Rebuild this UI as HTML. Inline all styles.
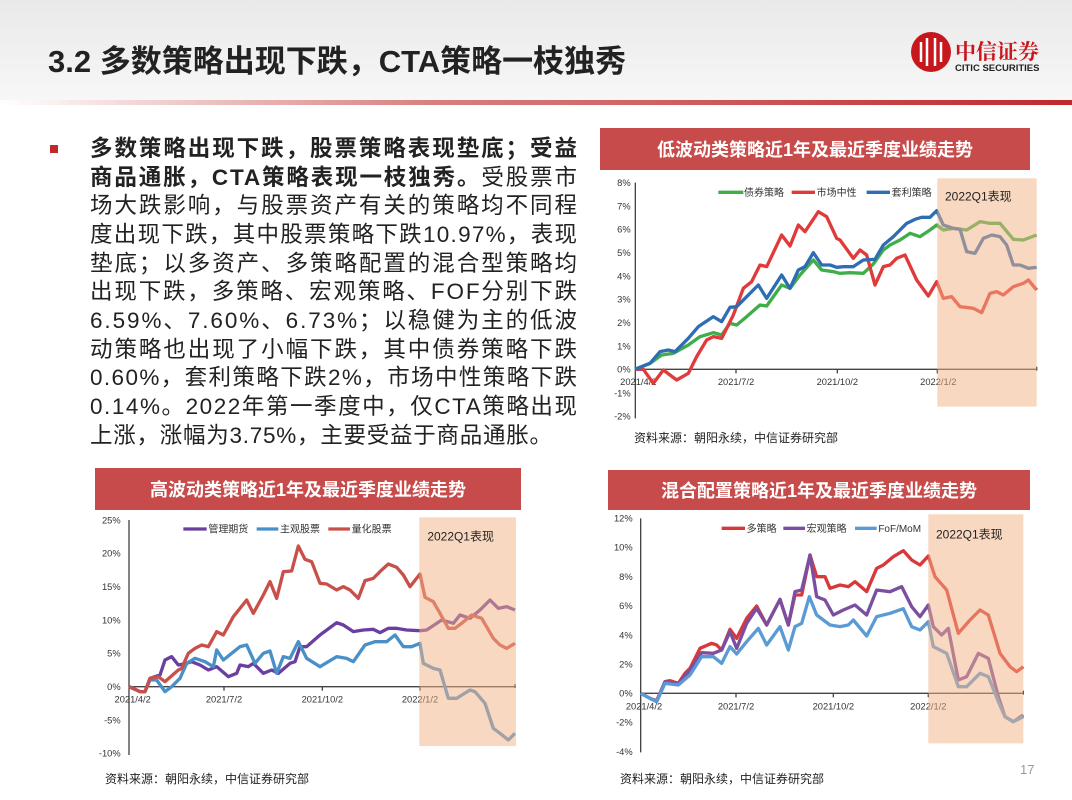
<!DOCTYPE html>
<html><head><meta charset="utf-8"><style>
html,body{margin:0;padding:0;background:#fff;width:1072px;height:800px;overflow:hidden}
svg{display:block;font-family:"Liberation Sans","Noto Sans CJK SC",sans-serif}
</style></head><body>
<svg width="1072" height="800" viewBox="0 0 1072 800" xmlns="http://www.w3.org/2000/svg">
<defs>
<linearGradient id="hd" x1="0" y1="0" x2="0" y2="1"><stop offset="0" stop-color="#e9e9e9"/><stop offset="1" stop-color="#f7f7f7"/></linearGradient>
<linearGradient id="rl" x1="0" y1="0" x2="1" y2="0"><stop offset="0" stop-color="#fff"/><stop offset="0.4" stop-color="#d88080"/><stop offset="1" stop-color="#c0282d"/></linearGradient>
</defs>
<rect x="0" y="0" width="1072" height="100" fill="url(#hd)"/>
<rect x="0" y="100" width="1072" height="5" fill="url(#rl)"/>
<text x="48" y="72" font-size="31" font-weight="bold" fill="#222">3.2 多数策略出现下跌，CTA策略一枝独秀</text>
<circle cx="931" cy="52" r="20" fill="#c8161d"/>
<g stroke="#fff" stroke-width="2.5" fill="none"><path d="M921 42v20M927 38v28M935 38v28M941 42v20"/></g>
<text x="955" y="59" font-size="21" font-weight="bold" fill="#c8161d" font-family="'Noto Serif CJK SC',serif">中信证券</text>
<text x="955" y="71" font-size="9.5" font-weight="bold" fill="#222">CITIC SECURITIES</text>

<rect x="50" y="145" width="8" height="8" fill="#c0282d"/>
<g font-size="22.5" fill="#222">
<text x="90" y="156" textLength="487" lengthAdjust="spacing" font-weight="bold">多数策略出现下跌，股票策略表现垫底；受益</text>
<text x="90" y="185" textLength="487" lengthAdjust="spacing"><tspan font-weight="bold">商品通胀，CTA策略表现一枝独秀。</tspan>受股票市</text>
<text x="90" y="213" textLength="487" lengthAdjust="spacing">场大跌影响，与股票资产有关的策略均不同程</text>
<text x="90" y="242" textLength="487" lengthAdjust="spacing">度出现下跌，其中股票策略下跌10.97%，表现</text>
<text x="90" y="271" textLength="487" lengthAdjust="spacing">垫底；以多资产、多策略配置的混合型策略均</text>
<text x="90" y="299" textLength="487" lengthAdjust="spacing">出现下跌，多策略、宏观策略、FOF分别下跌</text>
<text x="90" y="328" textLength="487" lengthAdjust="spacing">6.59%、7.60%、6.73%；以稳健为主的低波</text>
<text x="90" y="357" textLength="487" lengthAdjust="spacing">动策略也出现了小幅下跌，其中债券策略下跌</text>
<text x="90" y="385" textLength="487" lengthAdjust="spacing">0.60%，套利策略下跌2%，市场中性策略下跌</text>
<text x="90" y="414" textLength="487" lengthAdjust="spacing">0.14%。2022年第一季度中，仅CTA策略出现</text>
<text x="90" y="443" textLength="462" lengthAdjust="spacing">上涨，涨幅为3.75%，主要受益于商品通胀。</text>
</g>

<rect x="600" y="128" width="430" height="42" fill="#c84b4b"/>
<text x="815" y="156" font-size="18" font-weight="bold" fill="#fff" text-anchor="middle">低波动类策略近1年及最近季度业绩走势</text>
<rect x="95" y="468" width="426" height="42" fill="#c84b4b"/>
<text x="308" y="496" font-size="18" font-weight="bold" fill="#fff" text-anchor="middle">高波动类策略近1年及最近季度业绩走势</text>
<rect x="608" y="470" width="422" height="40" fill="#c84b4b"/>
<text x="819" y="497" font-size="18" font-weight="bold" fill="#fff" text-anchor="middle">混合配置策略近1年及最近季度业绩走势</text>

<g transform="translate(600,170) scale(0.33333)">
<g font-size="28" fill="#333" text-anchor="end">
<text x="92" y="48">8%</text><text x="92" y="118">7%</text><text x="92" y="188">6%</text><text x="92" y="258">5%</text><text x="92" y="328">4%</text><text x="92" y="398">3%</text><text x="92" y="468">2%</text><text x="92" y="538">1%</text><text x="92" y="608">0%</text><text x="92" y="680">-1%</text><text x="92" y="748">-2%</text>
</g>
<path d="M106 38V745M106 598H1312" stroke="#444" stroke-width="4" fill="none"/>
<g stroke="#444" stroke-width="4"><path d="M408 598v12M712 598v12M1012 598v12M1310 590v12"/></g>
<g font-size="28" fill="#333" text-anchor="middle"><text x="115" y="645">2021/4/2</text><text x="408" y="645">2021/7/2</text><text x="712" y="645">2021/10/2</text><text x="1015" y="645">2022/1/2</text></g>
<g fill="none" stroke-width="10" stroke-linejoin="round">
<polyline stroke="#3fae49" points="105,598 150,580 185,555 220,550 265,525 300,500 340,488 365,495 390,460 410,465 440,440 480,405 500,408 545,345 570,355 600,315 640,270 665,300 700,305 720,310 750,308 790,310 820,282 850,240 870,225 900,210 930,190 960,200 990,180 1010,165 1030,180 1060,175 1100,180 1140,155 1170,160 1200,160 1240,208 1270,210 1310,195"/>
<polyline stroke="#e03a3a" points="105,598 130,598 160,640 190,600 230,630 265,610 290,560 320,510 340,500 365,505 400,435 430,355 455,335 480,285 500,290 545,195 570,228 595,165 615,185 655,125 680,140 710,205 720,210 760,265 780,240 800,255 825,345 850,290 870,285 890,265 915,255 950,330 985,378 1010,335 1030,385 1055,380 1080,410 1120,415 1145,428 1170,370 1190,365 1210,375 1240,350 1270,340 1285,330 1310,360"/>
<polyline stroke="#2e6db4" points="105,598 150,580 180,545 205,540 225,545 265,505 295,470 340,440 365,455 390,412 410,410 440,380 475,345 500,385 545,315 570,355 595,300 615,290 640,248 665,285 690,285 710,292 730,290 760,290 790,270 825,268 850,225 880,200 920,160 945,148 965,142 990,142 1010,122 1030,165 1060,175 1080,178 1100,245 1125,250 1150,205 1175,195 1200,200 1220,225 1240,285 1260,285 1285,295 1310,292"/>
</g>
<rect x="1012" y="25" width="298" height="685" fill="#f4b183" opacity="0.5"/>
<text x="1035" y="92" font-size="36" fill="#222">2022Q1表现</text>
<g stroke-width="10"><path d="M355 67h75" stroke="#3fae49"/><path d="M575 67h70" stroke="#e03a3a"/><path d="M800 67h70" stroke="#2e6db4"/></g>
<g font-size="30" fill="#333"><text x="432" y="78">债券策略</text><text x="650" y="78">市场中性</text><text x="875" y="78">套利策略</text></g>
</g>
<text x="634" y="442" font-size="12" fill="#222">资料来源：朝阳永续，中信证券研究部</text>

<g transform="translate(90,510) scale(0.33333)">
<g font-size="28" fill="#333" text-anchor="end">
<text x="92" y="40">25%</text><text x="92" y="140">20%</text><text x="92" y="240">15%</text><text x="92" y="340">10%</text><text x="92" y="440">5%</text><text x="92" y="540">0%</text><text x="92" y="640">-5%</text><text x="92" y="740">-10%</text>
</g>
<path d="M117 30V735M117 530H1278" stroke="#444" stroke-width="4" fill="none"/>
<g stroke="#444" stroke-width="4"><path d="M402 530v12M697 530v12M990 530v12M1275 522v12"/></g>
<g font-size="28" fill="#333" text-anchor="middle"><text x="128" y="578">2021/4/2</text><text x="402" y="578">2021/7/2</text><text x="697" y="578">2021/10/2</text><text x="990" y="578">2022/1/2</text></g>
<g fill="none" stroke-width="10" stroke-linejoin="round">
<polyline stroke="#6b3fa0" points="117,530 150,545 165,545 180,505 210,495 225,450 245,440 265,465 290,460 305,455 330,465 355,480 380,470 415,500 440,490 450,465 475,470 490,460 520,490 545,480 565,490 600,460 615,455 630,410 650,410 690,375 740,338 760,345 790,365 820,360 850,358 870,368 895,355 920,355 950,360 990,362 1010,360 1040,340 1055,330 1090,340 1110,315 1140,325 1170,300 1200,270 1225,295 1250,290 1275,300"/>
<polyline stroke="#4a90c8" points="117,530 150,545 165,545 180,510 200,510 225,545 245,530 270,505 290,460 315,445 345,455 370,470 380,420 400,450 425,430 450,410 470,405 495,460 520,430 540,423 560,490 580,440 600,445 625,395 650,445 690,470 740,440 770,445 790,455 825,405 855,395 890,395 915,375 940,410 965,410 990,400 1000,460 1030,475 1050,480 1075,565 1100,565 1140,540 1155,545 1185,580 1210,655 1230,670 1255,690 1275,670"/>
<polyline stroke="#c9504a" points="117,530 150,545 165,545 180,505 205,500 225,515 265,480 275,475 295,430 315,415 335,405 355,410 380,365 400,375 430,320 470,270 490,310 520,255 540,215 560,265 580,185 605,183 625,108 645,148 665,155 690,220 710,222 740,240 760,230 780,240 805,265 825,212 850,205 875,180 895,162 920,172 940,195 960,230 990,192 1005,262 1030,275 1050,310 1075,355 1095,355 1115,340 1145,315 1175,325 1210,385 1230,405 1250,415 1275,400"/>
</g>
<rect x="988" y="22" width="290" height="686" fill="#f4b183" opacity="0.5"/>
<text x="1012" y="92" font-size="36" fill="#222">2022Q1表现</text>
<g stroke-width="10"><path d="M280 57h70" stroke="#6b3fa0"/><path d="M500 57h65" stroke="#4a90c8"/><path d="M715 57h65" stroke="#c9504a"/></g>
<g font-size="30" fill="#333"><text x="355" y="68">管理期货</text><text x="570" y="68">主观股票</text><text x="785" y="68">量化股票</text></g>
</g>
<text x="105" y="783" font-size="12" fill="#222">资料来源：朝阳永续，中信证券研究部</text>

<g transform="translate(600,510) scale(0.33333)">
<g font-size="28" fill="#333" text-anchor="end">
<text x="98" y="35">12%</text><text x="98" y="122">10%</text><text x="98" y="210">8%</text><text x="98" y="297">6%</text><text x="98" y="385">4%</text><text x="98" y="472">2%</text><text x="98" y="560">0%</text><text x="98" y="647">-2%</text><text x="98" y="735">-4%</text>
</g>
<path d="M122 25V727M122 550H1272" stroke="#444" stroke-width="4" fill="none"/>
<g stroke="#444" stroke-width="4"><path d="M408 550v12M700 550v12M985 550v12M1270 542v12"/></g>
<g font-size="28" fill="#333" text-anchor="middle"><text x="132" y="598">2021/4/2</text><text x="408" y="598">2021/7/2</text><text x="700" y="598">2021/10/2</text><text x="985" y="598">2022/1/2</text></g>
<g fill="none" stroke-width="10" stroke-linejoin="round">
<polyline stroke="#d9383a" points="122,550 150,565 170,572 195,515 210,512 235,520 255,490 270,475 300,415 335,400 350,405 365,420 390,358 410,385 440,325 470,288 500,345 540,268 565,345 585,255 605,255 630,135 650,200 675,200 690,235 720,225 745,230 765,215 800,245 830,175 850,165 880,140 910,122 935,150 960,165 985,138 1005,200 1040,240 1075,370 1110,330 1140,300 1165,315 1200,430 1230,470 1250,485 1270,470"/>
<polyline stroke="#7b4fa0" points="122,550 150,565 170,575 195,515 235,522 270,480 305,428 340,430 365,420 390,365 410,415 440,340 470,295 500,345 540,268 565,345 585,245 605,240 630,135 650,260 675,270 700,315 730,300 765,285 800,315 830,240 870,245 905,230 935,290 960,320 985,285 1000,350 1025,375 1045,355 1075,510 1100,500 1135,430 1165,445 1195,560 1215,620 1240,635 1270,615"/>
<polyline stroke="#5b9bd5" points="122,550 150,565 170,575 195,520 235,525 270,495 305,440 340,440 365,460 390,410 410,432 440,395 475,355 500,405 540,350 565,420 585,350 605,340 628,260 650,315 690,345 720,350 745,345 760,330 800,378 830,320 870,310 910,296 935,350 960,360 985,335 1000,410 1040,430 1075,530 1100,530 1140,490 1165,500 1195,575 1215,620 1240,635 1270,620"/>
</g>
<rect x="985" y="13" width="285" height="687" fill="#f4b183" opacity="0.5"/>
<text x="1008" y="85" font-size="36" fill="#222">2022Q1表现</text>
<g stroke-width="10"><path d="M365 55h70" stroke="#d9383a"/><path d="M550 55h65" stroke="#7b4fa0"/><path d="M765 55h65" stroke="#5b9bd5"/></g>
<g font-size="30" fill="#333"><text x="440" y="66">多策略</text><text x="620" y="66">宏观策略</text><text x="835" y="66">FoF/MoM</text></g>
</g>
<text x="620" y="783" font-size="12" fill="#222">资料来源：朝阳永续，中信证券研究部</text>
<text x="1020" y="774" font-size="13" fill="#999">17</text>
</svg>
</body></html>
